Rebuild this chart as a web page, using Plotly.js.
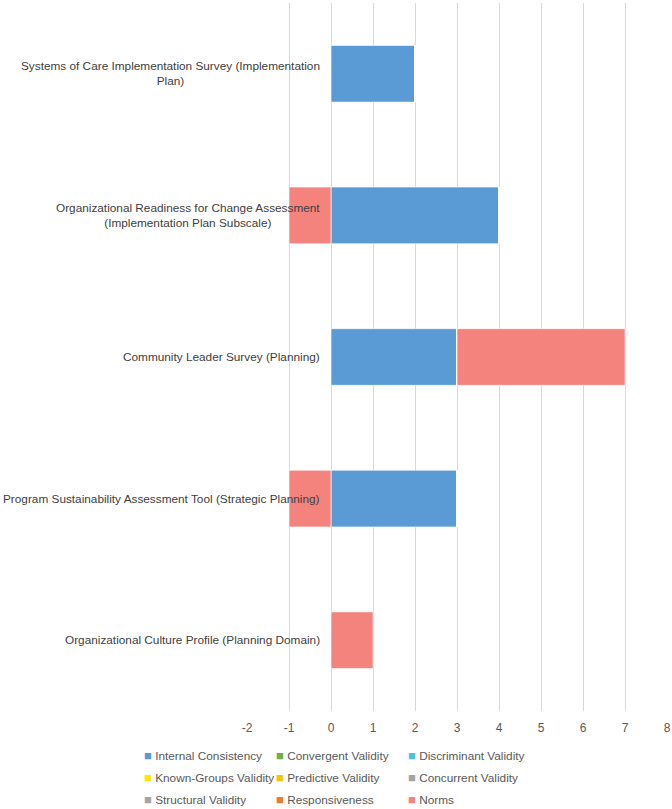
<!DOCTYPE html>
<html>
<head>
<meta charset="utf-8">
<script src="https://cdn.plot.ly/plotly-3.0.1.min.js"></script>
<style>html,body{margin:0;padding:0;background:#fff;}#chart{width:672px;height:809px;}</style>
</head>
<body>
<div id="chart"></div>
<script>
const categories = [
  "Systems of Care Implementation Survey (Implementation<br>Plan)",
  "Organizational Readiness for Change Assessment<br>(Implementation Plan Subscale)",
  "Community Leader Survey (Planning)",
  "Program Sustainability Assessment Tool (Strategic Planning)",
  "Organizational Culture Profile (Planning Domain)"
];
const seriesNames = ["Internal Consistency","Convergent Validity","Discriminant Validity","Known-Groups Validity","Predictive Validity","Concurrent Validity","Structural Validity","Responsiveness","Norms"];
const internalConsistency = [2, 4, 3, 3, 0];
const convergentValidity = [0, 0, 0, 0, 0];
const discriminantValidity = [0, 0, 0, 0, 0];
const knownGroupsValidity = [0, 0, 0, 0, 0];
const predictiveValidity = [0, 0, 0, 0, 0];
const concurrentValidity = [0, 0, 0, 0, 0];
const structuralValidity = [0, 0, 0, 0, 0];
const responsiveness = [0, 0, 0, 0, 0];
const norms = [0, -1, 4, -1, 1];
const xTicks = [-2,-1,0,1,2,3,4,5,6,7,8];

const seriesValues = [internalConsistency, convergentValidity, discriminantValidity, knownGroupsValidity, predictiveValidity, concurrentValidity, structuralValidity, responsiveness, norms];
const colors = ["#5B9BD5","#70AD47","#4FC1E8","#FFE600","#FFC000","#A5A5A5","#A5A5A5","#ED7D31","#F4837D"];

const FONT = 'Liberation Sans, Arial, sans-serif';

const traces = seriesNames.map((n, i) => ({
  type: 'bar',
  orientation: 'h',
  name: n,
  y: categories,
  x: seriesValues[i],
  showlegend: false,
  marker: {color: colors[i], line: {color: 'rgba(255,255,255,0.6)', width: 1}},
  hoverinfo: 'x+name'
}));

const annotations = categories.map(c => ({
  xref: 'x', yref: 'y', x: 0, y: c,
  text: c, showarrow: false, xanchor: 'right', xshift: -9, align: 'center',
  font: {family: FONT, size: 11.8, color: '#404040'}
}));

// legend laid out as 3 columns x 3 rows below the axis
const plotL = 247, plotR = 667, plotT = 3, plotB = 711;
const colX = [142, 274, 406];
const rowY = [755, 777, 799];
seriesNames.forEach((n, i) => {
  const px = colX[i % 3], py = rowY[Math.floor(i / 3)];
  annotations.push({
    xref: 'paper', yref: 'paper',
    x: (px - plotL) / (plotR - plotL), y: (plotB - py) / (plotB - plotT),
    xanchor: 'left', yanchor: 'middle', showarrow: false, align: 'left',
    text: '<span style="color:' + colors[i] + ';font-size:13px">■</span> ' + n,
    font: {family: FONT, size: 11.8, color: '#595959'}
  });
});

const layout = {
  width: 672, height: 809,
  margin: {l: plotL, r: 672 - plotR, t: plotT, b: 809 - plotB},
  barmode: 'relative',
  bargap: 0.6,
  paper_bgcolor: '#fff', plot_bgcolor: '#fff',
  font: {family: FONT, size: 12, color: '#595959'},
  xaxis: {
    range: [-2, 8], tickvals: xTicks, ticktext: xTicks.map(String),
    showgrid: true, gridcolor: '#D9D9D9', gridwidth: 1,
    zeroline: true, zerolinecolor: '#D9D9D9', zerolinewidth: 1,
    showline: false, ticks: '', ticklabelstandoff: 8,
    tickfont: {size: 12, color: '#595959'}, fixedrange: true
  },
  yaxis: {
    type: 'category', autorange: 'reversed', showticklabels: false,
    showgrid: false, zeroline: false, showline: false, ticks: '', fixedrange: true
  },
  showlegend: false,
  annotations: annotations
};
Plotly.newPlot('chart', traces, layout, {displayModeBar: false, staticPlot: true});
</script>
</body>
</html>
